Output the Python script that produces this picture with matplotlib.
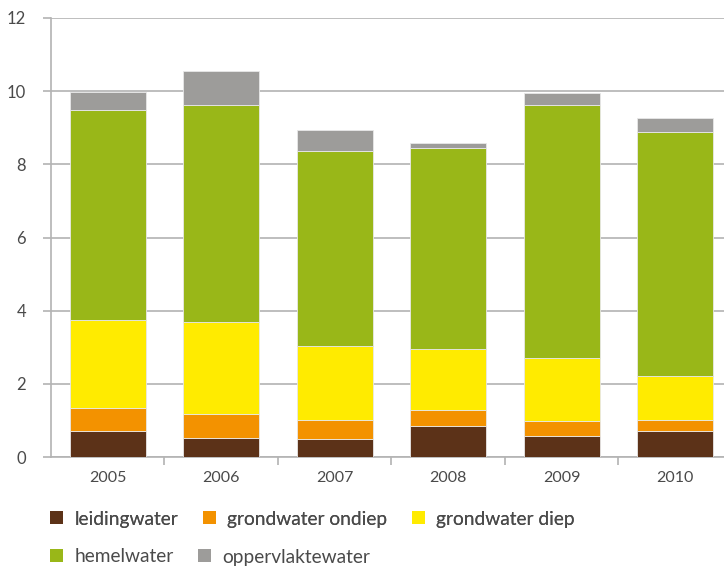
import matplotlib
matplotlib.use("Agg")
import matplotlib.pyplot as plt
from matplotlib.patches import Patch

years = ["2005", "2006", "2007", "2008", "2009", "2010"]
leidingwater = [0.71, 0.52, 0.49, 0.85, 0.57, 0.71]
grondwater_ondiep = [0.63, 0.66, 0.52, 0.43, 0.41, 0.30]
grondwater_diep = [2.41, 2.51, 2.02, 1.67, 1.73, 1.20]
hemelwater = [5.74, 5.93, 5.34, 5.50, 6.91, 6.67]
oppervlaktewater = [0.48, 0.93, 0.57, 0.13, 0.33, 0.39]

series = [
    ("leidingwater", leidingwater, "#5C3218"),
    ("grondwater ondiep", grondwater_ondiep, "#F39200"),
    ("grondwater diep", grondwater_diep, "#FFEB00"),
    ("hemelwater", hemelwater, "#99B718"),
    ("oppervlaktewater", oppervlaktewater, "#9D9C9A"),
]

plt.rcParams['font.family'] = ['Lato', 'DejaVu Sans']
txt = "#4a4a4a"
grid = "#b3b3b3"

fig = plt.figure(figsize=(7.24, 5.66), dpi=100)
ax = fig.add_axes([51/724, 109/566, 1 - 51/724, (457-18)/566])

x = list(range(len(years)))
bottom = [0.0]*len(years)
handles = []
for name, vals, col in series:
    ax.bar(x, vals, bottom=bottom, width=0.67, color=col, edgecolor="#e8e8e8", linewidth=0.6, zorder=3)
    bottom = [b + v for b, v in zip(bottom, vals)]
    handles.append(Patch(facecolor=col, edgecolor='none', label=name))

ax.set_ylim(0, 12)
ax.set_yticks([0, 2, 4, 6, 8, 10, 12])
ax.set_xlim(-0.5, 5.43)
ax.set_xticks(x)
ax.set_xticklabels(years)
ax.set_xticks([i + 0.5 for i in range(5)], minor=True)
ax.tick_params(axis='x', which='major', length=0, pad=10, labelsize=11.5, labelcolor=txt)
ax.tick_params(axis='x', which='minor', length=6, color=grid, width=1.2)
ax.tick_params(axis='y', length=6, color=grid, width=1.2, pad=12, labelsize=12, labelcolor=txt)
ax.yaxis.grid(True, color=grid, linewidth=1.2, zorder=0)
ax.set_axisbelow(True)
for s in ['top', 'right']:
    ax.spines[s].set_visible(False)
for s in ['left', 'bottom']:
    ax.spines[s].set_color(grid)
    ax.spines[s].set_linewidth(1.2)

common = dict(frameon=False, fontsize=13.8, handlelength=0.68, handleheight=0.68,
              handletextpad=0.58, columnspacing=1.3, labelcolor=txt, borderpad=0, borderaxespad=0)
leg1 = fig.legend(handles=handles[:3], loc='center left', bbox_to_anchor=(50/724, 1 - 519/566),
                  ncol=3, **common)
fig.add_artist(leg1)
leg2 = fig.legend(handles=handles[3:], loc='center left', bbox_to_anchor=(50/724, 1 - 557/566),
                  ncol=2, **common)

fig.savefig("out.png", dpi=100)
